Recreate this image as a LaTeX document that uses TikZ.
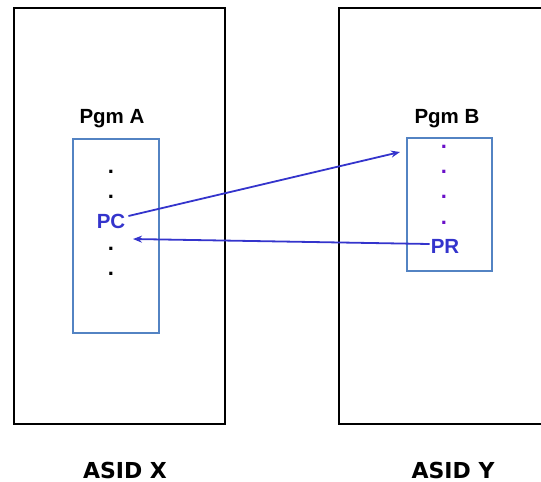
\documentclass[tikz,border=0pt]{standalone}
\usepackage{fontspec}
\setmainfont{Liberation Sans}
\newfontfamily\asidfont{DejaVu Sans}
\usetikzlibrary{arrows.meta}
\definecolor{pgmframe}{HTML}{5383C3}
\definecolor{linkblue}{HTML}{3434CC}
\definecolor{dotpurple}{HTML}{6A10C8}
\tikzset{
  space/.style={draw=black, line width=2pt},
  pgm/.style={draw=pgmframe, line width=2.6pt},
  title/.style={font=\bfseries\fontsize{20.5}{22}\selectfont, inner sep=0pt},
  reg/.style={font=\bfseries\fontsize{20.5}{22}\selectfont, text=linkblue, inner sep=1pt},
  dot/.style={font=\bfseries\fontsize{22}{24}\selectfont, inner sep=0pt},
  asid/.style={font=\asidfont\bfseries\fontsize{22}{24}\selectfont, inner sep=0pt},
  link/.style={draw=linkblue, line width=1.8pt, -{Stealth[length=9pt,width=7pt]}}
}
\begin{document}
\begin{tikzpicture}[x=1pt,y=-1pt]
\useasboundingbox (0,0) rectangle (541,482);
\begin{scope}
\clip (0,0) rectangle (541,482);
% address spaces
\draw[space] (14,8) rectangle (225,424);
\draw[space] (339,8) rectangle (560,424);
% program areas
\draw[pgm] (73,139) rectangle (159,333);
\draw[pgm] (407,138) rectangle (492,271);
\node[title] (ta) at (112,119) {Pgm A};
\node[title] (tb) at (447,119) {Pgm B};
% contents of Pgm A
\node[dot] (a1) at (111,172) {.};
\node[dot] (a2) at (111,197) {.};
\node[reg] (pc) at (111,221) {PC};
\node[dot] (a3) at (111,249) {.};
\node[dot] (a4) at (111,274) {.};
% contents of Pgm B
\node[dot, text=dotpurple] (b1) at (444,147) {.};
\node[dot, text=dotpurple] (b2) at (444,172) {.};
\node[dot, text=dotpurple] (b3) at (444,197) {.};
\node[dot, text=dotpurple] (b4) at (444,223) {.};
\node[reg] (pr) at (445,246) {PR};
% call targets
\coordinate (ent) at (400,152);
\coordinate (ret) at (133,239);
\draw[link] (pc.east) ++(2,-5) -- (ent);
\draw[link] (pr.west) ++(0,-2) -- (ret);
% labels
\node[asid] (ax) at (125,470) {ASID X};
\node[asid] (ay) at (453,470) {ASID Y};
\end{scope}
\end{tikzpicture}
\end{document}
